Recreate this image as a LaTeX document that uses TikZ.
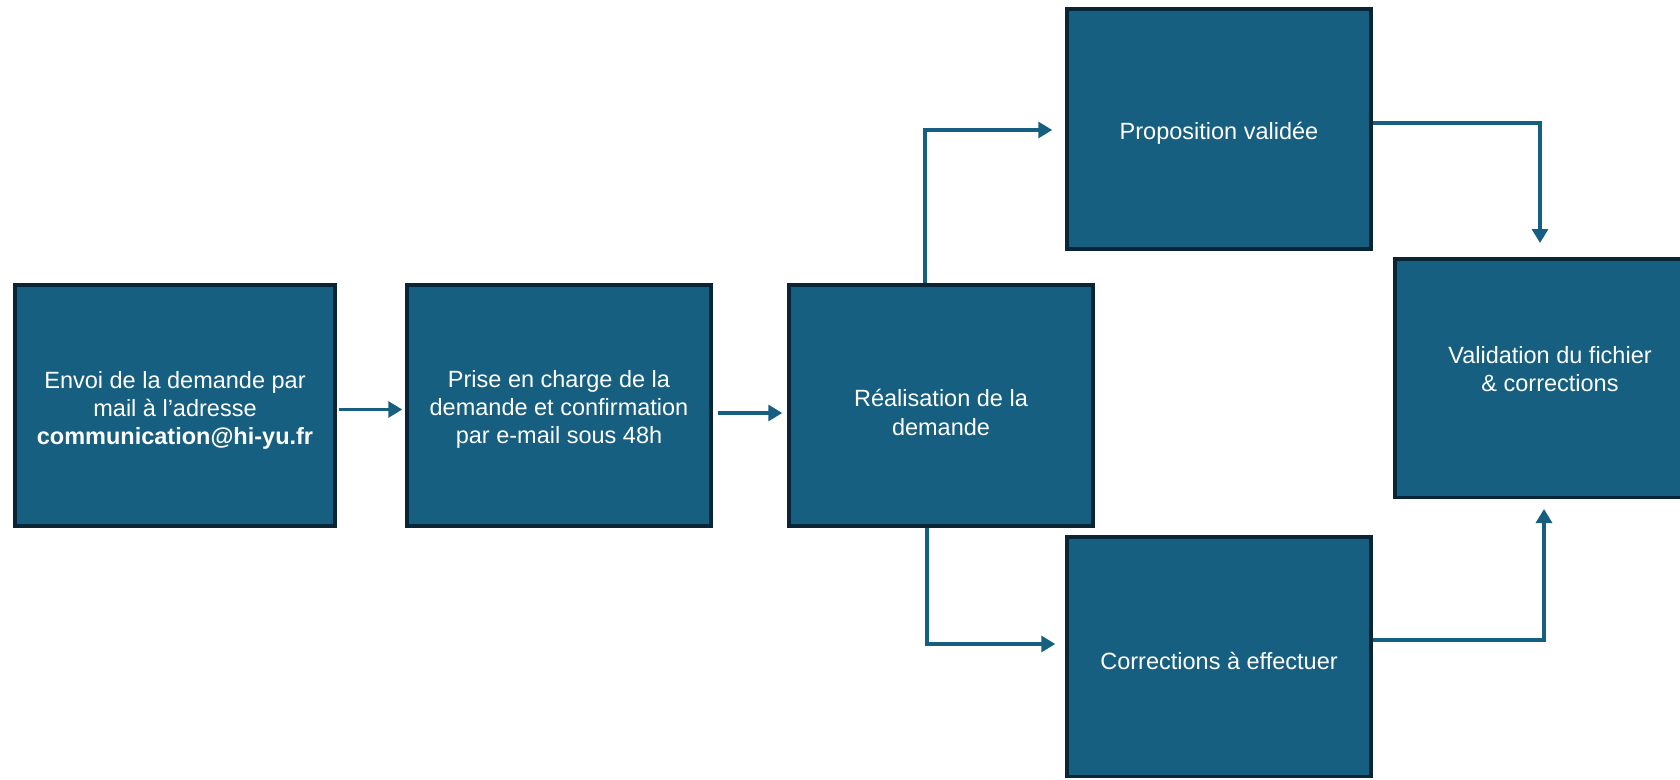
\documentclass[tikz,border=0pt]{standalone}
\usepackage{fontspec}
\setmainfont{Liberation Sans}
\usetikzlibrary{arrows.meta,calc}
\definecolor{boxfill}{HTML}{175F80}
\definecolor{boxline}{HTML}{0A2535}
\tikzset{
  flowbox/.style={draw=boxline, line width=3.5pt, fill=boxfill, inner sep=0pt},
  flowtext/.style={text=white, align=center, font=\fontsize{23.5}{28.3}\selectfont, inner sep=0pt},
  flowarrow/.style={draw=boxfill, line width=3.2pt, -{Triangle[length=14pt,width=16pt]}}
}
\begin{document}
\begin{tikzpicture}[x=1pt,y=-1pt]
\useasboundingbox (0,0) rectangle (1680,779);
\node[flowbox, minimum width=320pt, minimum height=241pt] (b1) at (175,405.5) {};
\node[flowbox, minimum width=304pt, minimum height=241pt] (b2) at (559,405.5) {};
\node[flowbox, minimum width=304pt, minimum height=241pt] (b3) at (941,405.5) {};
\node[flowbox, minimum width=304pt, minimum height=240pt] (b4) at (1219,129) {};
\node[flowbox, minimum width=304pt, minimum height=239.5pt] (b5) at (1219,656.5) {};
\node[flowbox, minimum width=310pt, minimum height=238.5pt] (b6) at (1550,378) {};
\node[flowtext] (t1) at ($(b1)+(0,5)$)
  {Envoi de la demande par\\mail à l’adresse\\\textbf{communication@hi-yu.fr}};
\node[flowtext] (t2) at ($(b2)+(0,4)$)
  {Prise en charge de la\\demande et confirmation\\par e-mail sous 48h};
\node[flowtext] (t3) at ($(b3)+(0,7)$) {Réalisation de la\\demande};
\node[flowtext] (t4) at ($(b4)+(0,4)$) {Proposition validée};
\node[flowtext] (t5) at ($(b5)+(0,4)$) {Corrections à effectuer};
\node[flowtext] (t6) at ($(b6)+(0,-9)$) {Validation du fichier\\\& corrections};
\draw[flowarrow] ($(b1.east)+(2,4)$) -- ($(b2.west)+(-3,4)$);
\draw[flowarrow] ($(b2.east)+(5,7.5)$) -- ($(b3.west)+(-5,7.5)$);
\draw[flowarrow] ($(b3.north)+(-16,0)$) |- ($(b4.west)+(-13,1)$);
\draw[flowarrow] ($(b3.south)+(-14,0)$) |- ($(b5.west)+(-10,-12.5)$);
\draw[flowarrow] ($(b4.east)+(0,-6)$) -| ($(b6.north)+(-10,-14)$);
\draw[flowarrow] ($(b5.east)+(0,-16.5)$) -| ($(b6.south)+(-6,10)$);
\end{tikzpicture}
\end{document}
